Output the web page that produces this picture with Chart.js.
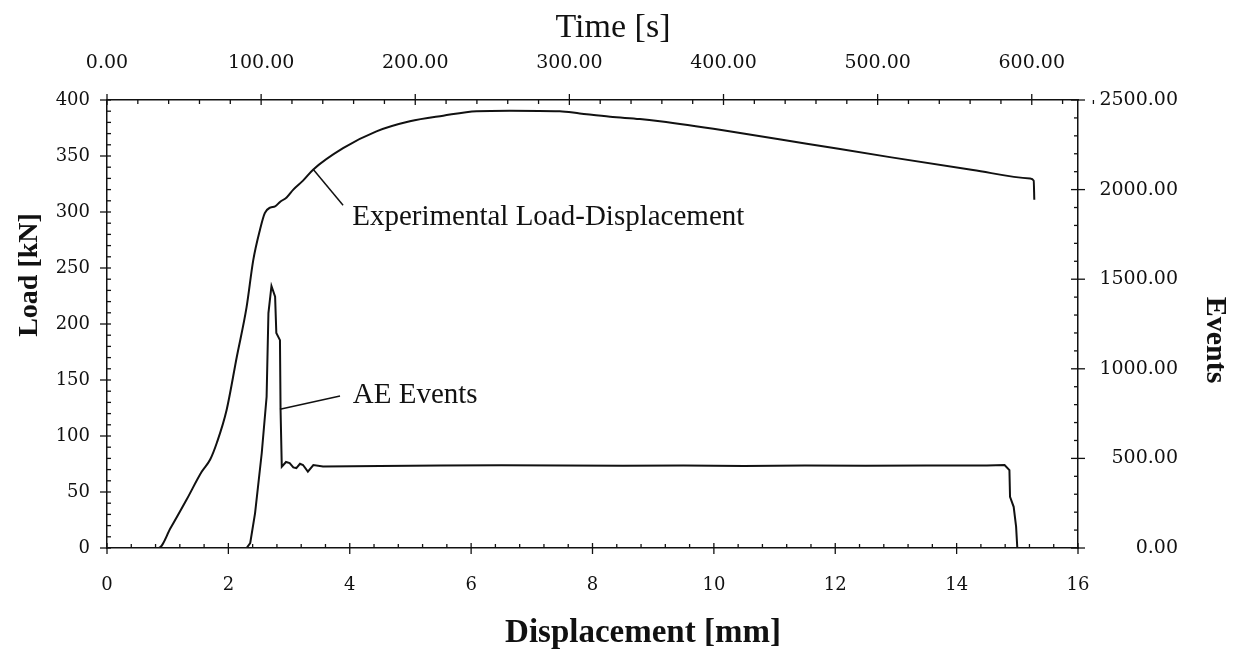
<!DOCTYPE html>
<html>
<head>
<meta charset="utf-8">
<script src="https://cdn.jsdelivr.net/npm/chart.js@4.4.1/dist/chart.umd.min.js"></script>
<style>
    body { margin: 0; background: #fff; }
    .chartBox { width: 1239px; height: 658px; }
</style>
</head>
<body>
<div class="chartBox"><canvas id="loadChart"></canvas></div>
<script>
// load - displacement curve
const loadDisp = [0, 0.85, 1.05, 1.31, 1.56, 1.70, 1.81, 1.97, 2.14, 2.30, 2.41, 2.52, 2.60, 2.69, 2.77, 2.85, 2.96, 3.07, 3.23, 3.40,
    3.89, 4.44, 4.99, 5.54, 6.09, 6.64, 7.46, 7.79, 8.29, 8.78, 9.11, 10.15, 11.53, 12.90, 14.27, 15.21, 15.27, 15.28];
const loadKN = [0, 0, 18, 43, 68, 79, 94, 123, 171, 215, 257, 284, 299, 304, 305, 309, 313, 320, 328, 338,
    357, 372, 381, 386, 390, 390.5, 390, 388, 385, 383, 381, 373, 361, 349, 337.5, 330, 328, 311];

// AE events curve
const aeDisp = [0, 2.30, 2.36, 2.44, 2.55, 2.63, 2.66, 2.71, 2.77, 2.79, 2.85, 2.86, 2.88, 2.95, 3.01, 3.07, 3.12, 3.18, 3.23, 3.31,
    3.40, 3.56, 4.5, 5.5, 6.5, 7.5, 8.5, 9.5, 10.5, 11.5, 12.5, 13.5, 14.5, 14.79, 14.87, 14.88, 14.94, 14.98, 15.00, 15.3];
const aeEvents = [0, 0, 28, 195, 530, 844, 1311, 1462, 1402, 1200, 1160, 770, 454, 480, 474, 450, 446, 470, 463, 426,
    463, 455, 458, 460, 462, 460, 459, 460, 458, 460, 459, 461, 460, 463, 435, 286, 230, 119, 0, 0];

// top time axis labels
const timeTicks = [0, 100, 200, 300, 400, 500, 600];

const ink = '#111';
const tickFont = { family: '"DejaVu Serif", serif', size: 18 };

const toPoints = (xs, ys) => xs.map((x, i) => ({ x: x, y: ys[i] }));

// leader-line labels, in data units
const notes = [
    { text: 'Experimental Load-Displacement', axis: 'y', line: [[3.40, 338], [3.89, 306]], at: [4.04, 288] },
    { text: 'AE Events', axis: 'y2', line: [[2.85, 774], [3.84, 848]], at: [4.05, 809] }
];

const tickSpecs = [
    { id: 'x', minor: 0.4, major: 2 },
    { id: 'xTop', minor: 20, major: 100 },
    { id: 'y', minor: 10, major: 50 },
    { id: 'y2', minor: 100, major: 500 }
];

const tickMarks = {
    id: 'tickMarks',
    afterDraw(chart) {
        const { ctx, chartArea } = chart;
        ctx.save();
        ctx.strokeStyle = ink;
        ctx.lineWidth = 1.3;
        tickSpecs.forEach(spec => {
            const scale = chart.scales[spec.id];
            const n = Math.round((scale.max - scale.min) / spec.minor);
            for (let i = 0; i <= n; i++) {
                const v = scale.min + i * spec.minor;
                const isMajor = Math.abs(v / spec.major - Math.round(v / spec.major)) < 1e-6;
                const p = scale.getPixelForValue(v);
                ctx.beginPath();
                if (spec.id === 'x') {
                    const y0 = chartArea.bottom;
                    ctx.moveTo(p, isMajor ? y0 - 5 : y0 - 4);
                    ctx.lineTo(p, isMajor ? y0 + 6 : y0);
                } else if (spec.id === 'xTop') {
                    const y0 = chartArea.top;
                    ctx.moveTo(p, isMajor ? y0 - 6 : y0);
                    ctx.lineTo(p, isMajor ? y0 + 5 : y0 + 4);
                } else if (spec.id === 'y') {
                    const x0 = chartArea.left;
                    ctx.moveTo(isMajor ? x0 - 7 : x0, p);
                    ctx.lineTo(x0 + 4, p);
                } else {
                    const x0 = chartArea.right;
                    ctx.moveTo(isMajor ? x0 - 7 : x0 - 4, p);
                    ctx.lineTo(isMajor ? x0 + 7 : x0, p);
                }
                ctx.stroke();
            }
        });
        ctx.restore();
    }
};

const labelsAndTitles = {
    id: 'labelsAndTitles',
    afterDraw(chart) {
        const { ctx, chartArea, scales } = chart;
        ctx.save();
        ctx.fillStyle = ink;
        ctx.strokeStyle = ink;

        // leader lines + annotation text
        ctx.lineWidth = 1.5;
        ctx.font = '29px "Liberation Serif", serif';
        ctx.textAlign = 'left';
        ctx.textBaseline = 'alphabetic';
        notes.forEach(note => {
            const ys = scales[note.axis];
            ctx.beginPath();
            ctx.moveTo(scales.x.getPixelForValue(note.line[0][0]), ys.getPixelForValue(note.line[0][1]));
            ctx.lineTo(scales.x.getPixelForValue(note.line[1][0]), ys.getPixelForValue(note.line[1][1]));
            ctx.stroke();
            ctx.fillText(note.text, scales.x.getPixelForValue(note.at[0]), ys.getPixelForValue(note.at[1]));
        });

        // axis titles
        ctx.textAlign = 'center';
        ctx.textBaseline = 'middle';
        ctx.font = '34px "Liberation Serif", serif';
        ctx.fillText('Time [s]', chartArea.left + 506, 28);
        ctx.font = 'bold 33px "Liberation Serif", serif';
        ctx.fillText('Displacement [mm]', chartArea.left + 536, chartArea.bottom + 85);

        ctx.save();
        ctx.translate(30, chartArea.top + 175);
        ctx.rotate(-Math.PI / 2);
        ctx.font = 'bold 28px "Liberation Serif", serif';
        ctx.fillText('Load [kN]', 0, 0);
        ctx.restore();

        ctx.save();
        ctx.translate(chartArea.right + 137, chartArea.top + 240);
        ctx.rotate(Math.PI / 2);
        ctx.font = 'bold 30px "Liberation Serif", serif';
        ctx.fillText('Events', 0, 0);
        ctx.restore();

        ctx.restore();
    }
};

const axisBorder = { display: true, color: ink, width: 1.5 };
const noGrid = { display: false, drawTicks: false };

const ctx = document.getElementById('loadChart').getContext('2d');
const loadChart = new Chart(ctx, {
    type: 'line',
    data: {
        datasets: [{
            label: 'Experimental Load-Displacement',
            data: toPoints(loadDisp, loadKN),
            xAxisID: 'x',
            yAxisID: 'y',
            borderColor: ink,
            borderWidth: 2,
            pointRadius: 0,
            cubicInterpolationMode: 'monotone'
        }, {
            label: 'AE Events',
            data: toPoints(aeDisp, aeEvents),
            xAxisID: 'x',
            yAxisID: 'y2',
            borderColor: ink,
            borderWidth: 2,
            pointRadius: 0,
            tension: 0
        }]
    },
    options: {
        responsive: true,
        maintainAspectRatio: false,
        animation: false,
        layout: { padding: { left: 0, right: 61, top: 0, bottom: 0 } },
        plugins: {
            legend: { display: false },
            tooltip: { enabled: false }
        },
        scales: {
            x: {
                type: 'linear',
                position: 'bottom',
                min: 0,
                max: 16,
                grid: noGrid,
                border: axisBorder,
                ticks: { stepSize: 2, color: ink, font: tickFont, padding: 27 },
                afterFit: s => { s.height = 110; }
            },
            xTop: {
                type: 'linear',
                position: 'top',
                min: 0,
                max: 630,
                grid: noGrid,
                border: axisBorder,
                afterBuildTicks: s => { s.ticks = timeTicks.map(v => ({ value: v })); },
                ticks: {
                    color: ink,
                    font: { family: '"DejaVu Serif", serif', size: 19 },
                    padding: 26,
                    callback: v => Number(v).toFixed(2)
                },
                afterFit: s => { s.height = 100; }
            },
            y: {
                position: 'left',
                min: 0,
                max: 400,
                grid: noGrid,
                border: axisBorder,
                ticks: { stepSize: 50, color: ink, font: tickFont, padding: 17 },
                afterFit: s => { s.width = 107; }
            },
            y2: {
                position: 'right',
                min: 0,
                max: 2500,
                grid: noGrid,
                border: axisBorder,
                ticks: {
                    stepSize: 500,
                    color: ink,
                    font: { family: '"DejaVu Serif", serif', size: 19 },
                    crossAlign: 'far',
                    callback: v => Number(v).toFixed(2)
                },
                afterFit: s => { s.width = 100; }
            }
        }
    },
    plugins: [tickMarks, labelsAndTitles]
});
</script>
</body>
</html>
